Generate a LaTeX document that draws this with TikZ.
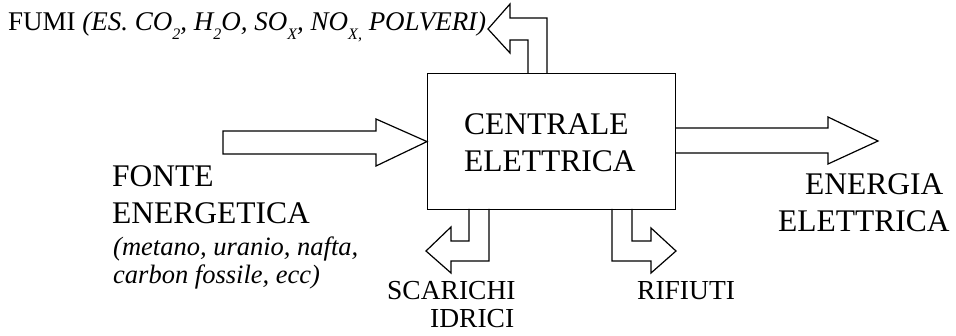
\documentclass[tikz,border=0pt]{standalone}
\usepackage{fontspec}
\setmainfont{Liberation Serif}
\newcommand\mysub[1]{\raisebox{-0.32em}{\fontsize{16}{16}\selectfont #1}}
\tikzset{
  blk/.style={draw=black, line width=1.2pt, line join=miter},
  big/.style={inner sep=0pt, anchor=base west, font=\fontsize{31.5}{37}\selectfont},
  mid/.style={inner sep=0pt, anchor=base west, font=\fontsize{27.5}{32}\selectfont},
  ital/.style={inner sep=0pt, anchor=base west, font=\fontsize{26.5}{29}\selectfont\itshape},
  small/.style={inner sep=0pt, anchor=base west, font=\fontsize{27}{28}\selectfont},
}
\begin{document}
\begin{tikzpicture}[x=1pt,y=-1pt]
\useasboundingbox (0,0) rectangle (956,336);
% main box
\node[blk, minimum width=248pt, minimum height=136pt, inner sep=0pt, anchor=north west] (box) at (427,73) {};
\node[big] (c1) at (464,135) {CENTRALE};
\node[big] (c2) at (464,172) {ELETTRICA};
% input arrow
\draw[blk] (223,131) -- (376,131) -- (376,119) -- (box.west) -- (376,166) -- (376,154) -- (223,154) -- cycle;
% output arrow
\draw[blk] (675,128) -- (828,128) -- (828,117) -- (878,141) -- (828,164) -- (828,153) -- (675,153);
% fumi arrow
\draw[blk] (528,73) -- (528,40) -- (510,40) -- (510,53) -- (488,29) -- (510,4) -- (510,18) -- (547,18) -- (547,73);
% scarichi arrow
\draw[blk] (469,209) -- (469,241) -- (451,241) -- (451,227) -- (426,251) -- (451,273) -- (451,261) -- (489,261) -- (489,209);
% rifiuti arrow
\draw[blk] (632,209) -- (632,241) -- (651,241) -- (651,228) -- (676,251) -- (651,273) -- (651,261) -- (612,261) -- (612,209);
% labels
\node[big] (f1) at (112,187) {FONTE};
\node[big] (f2) at (112,224) {ENERGETICA};
\node[ital] (f3) at (113,256) {(metano, uranio, nafta,};
\node[ital] (f4) at (113,284) {carbon fossile, ecc)};
\node[big] (e1) at (805,195) {ENERGIA};
\node[big] (e2) at (778,232) {ELETTRICA};
\node[mid] (s1) at (387,300) {SCARICHI};
\node[mid] (s2) at (430,328) {IDRICI};
\node[mid] (r1) at (637,300) {RIFIUTI};
\node[small] (fumi) at (8,31) {FUMI \textit{(ES. CO\mysub{2}, H\mysub{2}O, SO\mysub{X}, NO\mysub{X,} POLVERI)}};
\end{tikzpicture}
\end{document}
